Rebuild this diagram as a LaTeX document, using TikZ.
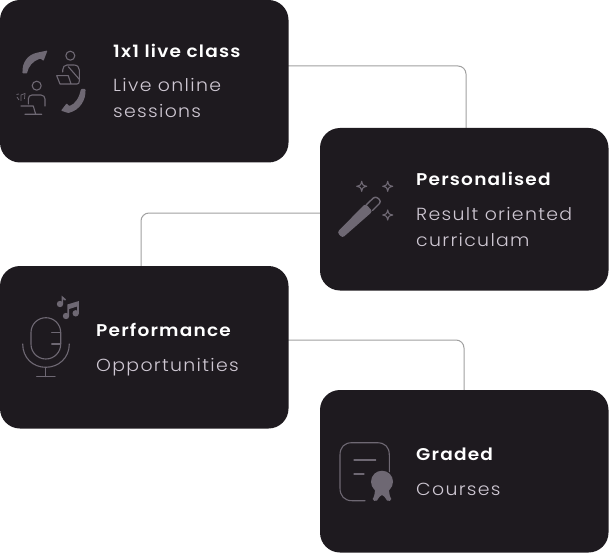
\documentclass[tikz,border=0pt]{standalone}
\usepackage{fontspec}
\setmainfont{Poppins}
\newfontfamily\titlefont[LetterSpace=7,FakeStretch=1.09]{Poppins SemiBold}
\newfontfamily\subfont[LetterSpace=7.5,FakeStretch=1.08]{Poppins Light}
\usetikzlibrary{calc}
\definecolor{cardc}{HTML}{1E1A1F}
\definecolor{iconc}{HTML}{6E6873}
\definecolor{subc}{HTML}{CFC8D3}
\definecolor{linec}{HTML}{A0A0A0}
\tikzset{
  card/.style={fill=cardc,rounded corners=20pt},
  conn/.style={draw=linec,line width=1pt,rounded corners=8pt},
  ttl/.style={anchor=base west,inner sep=0pt,text=white,font=\titlefont\fontsize{17}{20}\selectfont},
  subt/.style={anchor=base west,inner sep=0pt,text=subc,font=\subfont\fontsize{17.5}{20}\selectfont},
  ic/.style={draw=iconc,line width=1.1pt,line cap=round,line join=round},
  icf/.style={fill=iconc},
  star/.pic={\draw[ic] (0,-5) .. controls (1,-1) .. (5,0) .. controls (1,1) .. (0,5) .. controls (-1,1) .. (-5,0) .. controls (-1,-1) .. cycle;}
}
\begin{document}
\begin{tikzpicture}[x=1pt,y=-1pt]
\useasboundingbox (0,0) rectangle (609,553);
% anchors of the cards
\coordinate (c1) at (0,0);
\coordinate (c2) at (320,128);
\coordinate (c3) at (0,266);
\coordinate (c4) at (320,390);
\coordinate (out1) at (288,66);
\coordinate (in2) at (466,128);
\coordinate (out2) at (320,213);
\coordinate (in3) at (141,266);
\coordinate (out3) at (288,340);
\coordinate (in4) at (464,390);
% connectors
\draw[conn] (out1) -| (in2);
\draw[conn] (out2) -| (in3);
\draw[conn] (out3) -| (in4);
% cards
\fill[card] (c1) rectangle ++(288.5,162.5);
\fill[card] (c2) rectangle ++(288.5,162.5);
\fill[card] (c3) rectangle ++(288.5,162.5);
\fill[card] (c4) rectangle ++(288.5,162.5);
% texts
\node[ttl] (t1) at (113,57.6) {1x1 live class};
\node[subt] (s1a) at (113,92) {Live online};
\node[subt] (s1b) at (113,118) {sessions};
\node[ttl] (t2) at (416,185.6) {Personalised};
\node[subt] (s2a) at (416,220) {Result oriented};
\node[subt] (s2b) at (416,246) {curriculam};
\node[ttl] (t3) at (96,336.6) {Performance};
\node[subt] (s3) at (96,371) {Opportunities};
\node[ttl] (t4) at (416,460.6) {Graded};
\node[subt] (s4) at (416,495) {Courses};
% icon 1: circular arrows
\fill[icf,rounded corners=.8pt] (22.5,73.5) .. controls (22,62) and (28,54.5) .. (38,52.5) -- (47.5,50.5) -- (43.5,61) -- (40.5,58.5) .. controls (33,61) and (28.5,66) .. (27,73.5) -- cycle;
\fill[icf,rounded corners=.8pt] (85.5,89) .. controls (86,100) and (80,110) .. (68.3,113) -- (61,110.7) -- (66.7,103.3) -- (69,106) .. controls (75,104.5) and (79.5,97) .. (81,89) -- cycle;
% persons
\draw[ic] (70.3,55.7) circle (4.5);
\draw[ic] (62.7,72) -- (62.7,70) .. controls (62.7,67) and (64.5,65) .. (67,65) -- (74,65) .. controls (77.5,65) and (79.3,67.5) .. (79.3,70) -- (79.3,81) .. controls (79.3,83) and (78.5,84) .. (77,84) -- (60,84) -- (56.7,75.7) -- (68.3,75.7) -- (71,84);
\draw[ic] (68.3,66.7) -- (79.3,79.3);
\draw[ic] (36.7,85.7) circle (4.5);
\draw[ic] (28.3,104) -- (28.3,99) .. controls (28.3,96.5) and (30,95) .. (32,95) -- (41,95) .. controls (43.5,95) and (45,97) .. (45,99) -- (45,106);
\draw[ic] (21,106) -- (33.3,106) -- (35.7,114.3) -- (41.7,114.3) (35.7,114.3) -- (25,114.3) -- cycle;
\draw[iconc,line width=.7pt] (16.5,94.5) -- (19,94) (17,97) -- (19,100) (21,95) -- (25,93.5) -- (24.5,99) (21,95) -- (21,101);
% icon 2: wand
\fill[icf,rounded corners=2.5pt] (342.4,237.9) -- (337.2,232.3) -- (365.4,203.6) -- (372.6,211.4) -- cycle;
\draw[ic,line width=1.4pt,rounded corners=3pt] (366.5,204.5) -- (375.5,196) -- (381.5,201.5) -- (372.5,210.5);
\pic at (361.7,186.3) {star};
\pic at (387.7,186.3) {star};
\pic at (387.7,215) {star};
% icon 3: microphone
\draw[ic,rounded corners=14.8pt] (31,317.7) rectangle (60.7,359);
\draw[ic] (51.7,332.7) -- (60.7,332.7) (51.7,344) -- (60.7,344);
\draw[ic] (22.7,344) .. controls (22.7,358) and (33,367.3) .. (45.7,367.3) .. controls (58.5,367.3) and (69.3,358) .. (69.3,344);
\draw[ic] (45.7,367.3) -- (45.7,376.7) (36.7,376.7) -- (55,376.7);
\fill[icf] (60,304) circle (3.2);
\draw[iconc,line width=1.6pt] (62.4,304) -- (62.4,297.3) -- (65.5,300);
\fill[icf] (66,316) circle (3.2) (75.7,313.3) circle (3.2);
\fill[icf] (67.4,304.5) -- (78.9,301) -- (78.9,313.5) -- (77.1,313.5) -- (77.1,306.5) -- (69.2,309) -- (69.2,316) -- (67.4,316) -- cycle;
% icon 4: certificate
\draw[ic] (389.3,471.7) -- (389.3,455) .. controls (389.3,447) and (385,442.7) .. (377,442.7) -- (352,442.7) .. controls (344.5,442.7) and (340,447) .. (340,455) -- (340,488) .. controls (340,496) and (344.5,500.7) .. (352,500.7) -- (365,500.7);
\draw[ic] (354,460) -- (375.7,460) (354,474) -- (364,474);
\fill[icf] (382,481.7) circle (11);
\fill[icf] (375,488) .. controls (375,494) and (374,497) .. (372.7,499) .. controls (373,501) and (375,501.5) .. (377,500.5) .. controls (379,497) and (381,495) .. (382,495) .. controls (383,495) and (385,497) .. (387,500.5) .. controls (389,501.5) and (391,501) .. (391.3,499) .. controls (390,497) and (389,494) .. (389,488) -- cycle;
\end{tikzpicture}
\end{document}
